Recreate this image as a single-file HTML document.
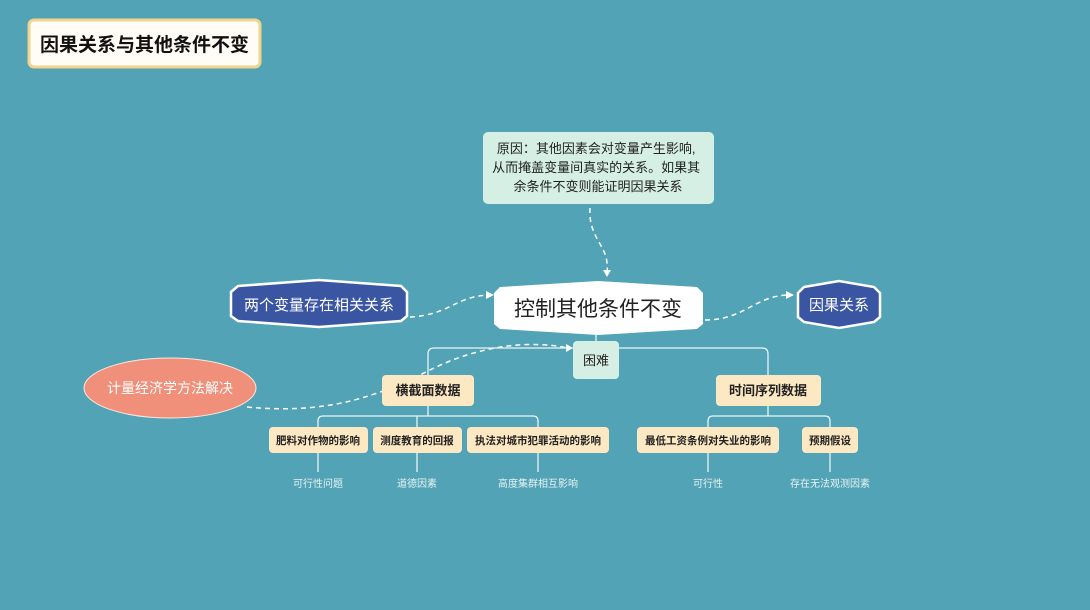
<!DOCTYPE html>
<html><head><meta charset="utf-8"><style>
html,body{margin:0;padding:0;background:#52a3b5;}
svg{display:block;font-family:"Liberation Sans","Noto Sans CJK SC",sans-serif;}
</style></head><body>
<svg width="1090" height="610" viewBox="0 0 1090 610">
<rect width="1090" height="610" fill="#52a3b5"/>
<!-- title -->
<rect x="29" y="20" width="231" height="47" rx="5" fill="#fffdf5" stroke="#f0d68c" stroke-width="3"/>
<text x="144.5" y="51" font-size="19" font-weight="bold" text-anchor="middle" fill="#111">因果关系与其他条件不变</text>
<!-- reason -->
<rect x="483" y="132" width="231" height="72" rx="5" fill="#d5efe4"/>
<text font-size="13" fill="#222" text-anchor="middle">
<tspan x="598" y="153">原因：其他因素会对变量产生影响,</tspan>
<tspan x="598" y="172">从而掩盖变量间真实的关系。如果其</tspan>
<tspan x="598" y="191">余条件不变则能证明因果关系</tspan></text>
<!-- connectors -->
<g fill="none" stroke="#ffffff" stroke-width="1.5" stroke-dasharray="5,4">
<path d="M590 208 C588 240 610 245 607 272"/>
<path d="M410 317 C450 315 455 296 490 295"/>
<path d="M705 320 C745 320 755 295 790 295"/>
<path d="M247 407 C330 415 380 395 430 370 C480 345 530 340 568 348"/>
</g>
<g fill="#fff">
<path d="M603 270 L607 277 L611 270Z"/>
<path d="M486 291 L494 295 L486 299Z"/>
<path d="M786 291 L794 295 L786 299Z"/>
<path d="M566 344 L573 348 L566 352Z"/>
</g>
<!-- brackets -->
<g fill="none" stroke="#e8f6f8" stroke-width="1.3">
<path d="M596 335 V341"/>
<path d="M428 375 V354 Q428 348 434 348 H762 Q768 348 768 354 V375"/>
<path d="M428 406 V416"/>
<path d="M318 427 V421 Q318 416 323 416 H533 Q538 416 538 421 V427"/>
<path d="M417 416 V427"/>
<path d="M768 406 V416"/>
<path d="M708 427 V421 Q708 416 713 416 H825 Q830 416 830 421 V427"/>
<path d="M318 453 V472 M417 453 V472 M538 453 V472 M708 453 V472 M830 453 V472"/>
</g>
<!-- central -->
<path d="M500 287 L598 281 L697 287 L703 293 L703 324 L697 329 L598 335 L500 329 L494 324 L494 293Z" fill="#fff"/>
<text x="598" y="316" font-size="21" text-anchor="middle" fill="#222">控制其他条件不变</text>
<!-- left hex -->
<path d="M238 286 L319 280 L401 286 L407 292 L407 316 L401 321 L319 327 L238 321 L231 316 L231 292Z" fill="#3a56a3" stroke="#fff" stroke-width="2.5"/>
<text x="319" y="310" font-size="15" text-anchor="middle" fill="#fff">两个变量存在相关关系</text>
<!-- right hex -->
<path d="M804 287 L839 281 L874 287 L880 293 L880 317 L874 322 L839 328 L804 322 L798 317 L798 293Z" fill="#3a56a3" stroke="#fff" stroke-width="2.5"/>
<text x="839" y="310" font-size="15" text-anchor="middle" fill="#fff">因果关系</text>
<!-- 困难 -->
<rect x="573" y="341" width="46" height="38" rx="4" fill="#d5efe4"/>
<text x="596" y="365" font-size="13" text-anchor="middle" fill="#222">困难</text>
<!-- ellipse -->
<ellipse cx="170" cy="388" rx="86" ry="30" fill="#f0907a" stroke="#fbe6df" stroke-width="1"/>
<text x="170" y="393" font-size="14" text-anchor="middle" fill="#fff">计量经济学方法解决</text>
<!-- level 2 -->
<g fill="#fde8c4">
<rect x="382" y="375" width="92" height="31" rx="4"/>
<rect x="716" y="375" width="105" height="31" rx="4"/>
<rect x="269" y="427" width="99" height="26" rx="4"/>
<rect x="373" y="427" width="89" height="26" rx="4"/>
<rect x="467" y="427" width="142" height="26" rx="4"/>
<rect x="637" y="427" width="142" height="26" rx="4"/>
<rect x="802" y="427" width="56" height="26" rx="4"/>
</g>
<g fill="#222" text-anchor="middle" font-weight="bold">
<text x="428" y="395" font-size="13">横截面数据</text>
<text x="768" y="395" font-size="13">时间序列数据</text>
<text x="318" y="444" font-size="10.5">肥料对作物的影响</text>
<text x="417" y="444" font-size="10.5">测度教育的回报</text>
<text x="538" y="444" font-size="10.5">执法对城市犯罪活动的影响</text>
<text x="708" y="444" font-size="10.5">最低工资条例对失业的影响</text>
<text x="830" y="444" font-size="10.5">预期假设</text>
</g>
<g fill="#e6f3f5" text-anchor="middle" font-size="10">
<text x="318" y="487">可行性问题</text>
<text x="417" y="487">道德因素</text>
<text x="538" y="487">高度集群相互影响</text>
<text x="708" y="487">可行性</text>
<text x="830" y="487">存在无法观测因素</text>
</g>
</svg>
</body></html>
